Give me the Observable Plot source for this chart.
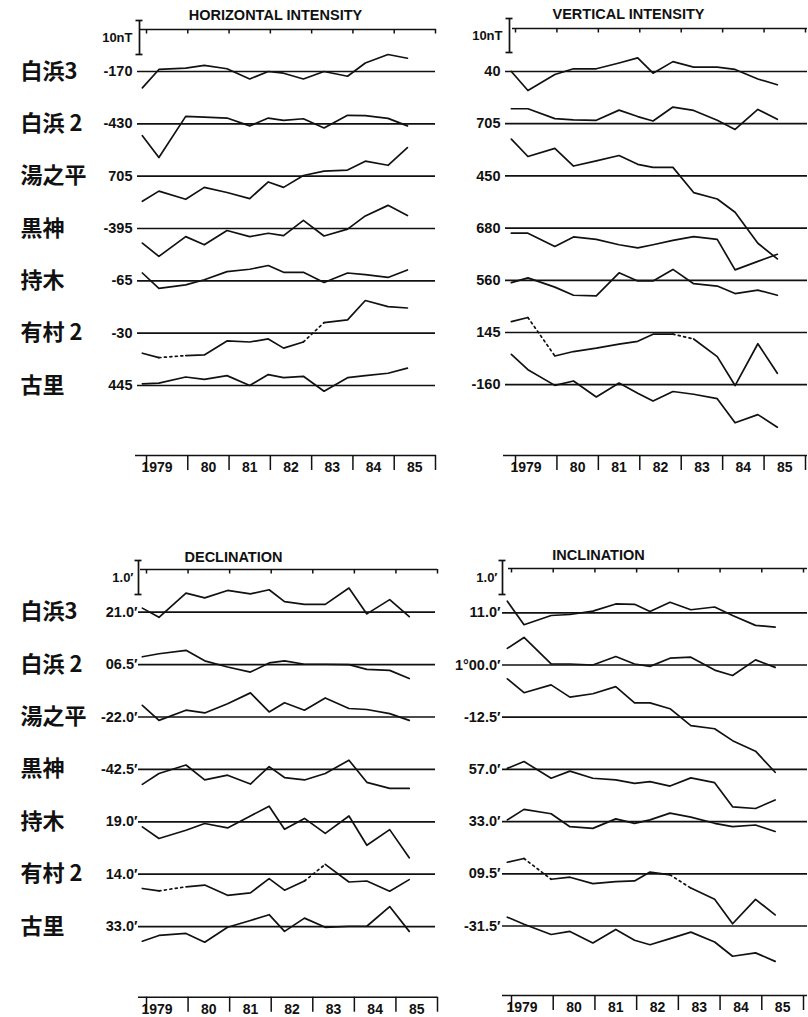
<!DOCTYPE html>
<html><head><meta charset="utf-8">
<script src="https://cdn.jsdelivr.net/npm/d3@7"></script>
<script src="https://cdn.jsdelivr.net/npm/@observablehq/plot@0.6"></script>
<style>
body{margin:0;background:#fff;}
#page{position:relative;width:808px;height:1017px;overflow:hidden;background:#fff;}
#page svg{position:absolute;overflow:visible;background:transparent;max-width:none;}
</style></head><body><div id="page"></div>
<script>
// ---- data ----
const stations = ["白浜3", "白浜 2", "湯之平", "黒神", "持木", "有村 2", "古里"];
const epochs = [1978.9, 1979.3, 1979.95, 1980.4, 1980.95, 1981.5, 1981.95, 1982.32, 1982.8, 1983.3, 1983.87, 1984.3, 1984.85, 1985.32];
const yearTicks = [1979, 1980, 1981, 1982, 1983, 1984, 1985, 1986];
const yearLabels = ["1979", "80", "81", "82", "83", "84", "85"];
const dashedStation = "有村 2";
const dashedSegments = [[1, 2], [8, 9]];

const hiBaseLabels = ["-170", "-430", "705", "-395", "-65", "-30", "445"];
const hiValues = [ // nT, deviation from base value
  [-4.8, 0.6, 1.0, 1.8, 0.8, -2.2, 0.0, -0.5, -2.2, 0.0, -1.4, 2.5, 5.0, 3.9],
  [-3.5, -9.9, 2.2, 2.0, 1.7, -0.6, 1.7, 1.0, 1.5, -1.2, 2.5, 2.4, 1.6, -0.6],
  [-7.4, -4.4, -6.8, -3.3, -4.8, -6.6, -1.7, -3.3, 0.2, 1.5, 1.8, 4.4, 3.2, 8.4],
  [-4.3, -8.2, -2.4, -4.8, -0.6, -2.4, -1.4, -2.1, 2.4, -2.2, -0.2, 3.7, 6.8, 3.8],
  [2.3, -2.2, -1.2, 0.3, 2.7, 3.4, 4.5, 2.5, 2.5, -0.5, 2.3, 1.8, 1.0, 3.2],
  [-5.9, -7.2, -6.6, -6.4, -2.3, -2.6, -1.7, -4.4, -2.6, 3.1, 3.9, 9.6, 7.8, 7.4],
  [0.5, 0.7, 2.5, 1.8, 2.9, 0.0, 3.2, 2.3, 2.7, -1.7, 2.3, 2.9, 3.6, 5.1]
];

const viBaseLabels = ["40", "705", "450", "680", "560", "145", "-160"];
const viValues = [ // nT
  [0.0, -5.6, -0.9, 0.8, 0.8, 2.5, 4.0, -0.5, 2.9, 1.3, 1.3, 0.6, -2.2, -3.9],
  [4.4, 4.4, 1.5, 1.1, 1.0, 4.0, 2.1, 0.8, 4.9, 3.9, 1.0, -1.7, 4.2, 1.3],
  [10.8, 5.7, 8.1, 2.9, 4.4, 6.0, 3.4, 2.5, 2.5, -4.9, -6.8, -10.7, -19.8, -24.4],
  [-1.5, -1.5, -5.4, -2.6, -3.3, -4.9, -5.8, -4.9, -3.6, -2.5, -3.3, -12.3, -9.8, -7.7],
  [-0.7, 0.7, -2.0, -4.4, -4.6, 2.2, -0.2, -0.2, 3.2, -1.0, -1.7, -3.9, -2.9, -4.4],
  [3.2, 4.4, -6.9, -5.6, -4.6, -3.4, -2.6, -0.5, -0.5, -1.9, -7.1, -15.6, -3.3, -12.0],
  [8.9, 4.4, -0.2, 1.1, -3.6, 0.5, -2.5, -4.8, -2.0, -2.8, -4.1, -11.2, -8.8, -12.5]
];

const dBaseLabels = ["21.0′", "06.5′", "-22.0′", "-42.5′", "19.0′", "14.0′", "33.0′"];
const dValues = [ // arc-minutes
  [0.12, -0.15, 0.56, 0.42, 0.64, 0.54, 0.66, 0.31, 0.23, 0.23, 0.71, -0.05, 0.37, -0.13],
  [0.23, 0.32, 0.42, 0.11, -0.07, -0.22, 0.05, 0.11, 0.01, 0.01, 0.00, -0.14, -0.17, -0.41],
  [0.34, -0.10, 0.20, 0.12, 0.39, 0.71, 0.15, 0.42, 0.20, 0.56, 0.25, 0.22, 0.10, -0.10],
  [-0.44, -0.12, 0.13, -0.31, -0.17, -0.43, 0.08, -0.24, -0.31, -0.12, 0.27, -0.38, -0.56, -0.56],
  [-0.15, -0.49, -0.25, -0.05, -0.18, 0.17, 0.46, -0.22, 0.10, -0.34, 0.17, -0.69, -0.23, -1.06],
  [-0.42, -0.49, -0.37, -0.32, -0.62, -0.55, -0.13, -0.47, -0.20, 0.29, -0.23, -0.20, -0.50, -0.16],
  [-0.43, -0.26, -0.20, -0.46, -0.02, 0.18, 0.35, -0.14, 0.25, -0.02, 0.01, 0.01, 0.59, -0.14]
];

const iBaseLabels = ["11.0′", "1°00.0′", "-12.5′", "57.0′", "33.0′", "09.5′", "-31.5′"];
const iValues = [ // arc-minutes
  [0.34, -0.35, -0.08, -0.05, 0.05, 0.26, 0.25, 0.04, 0.31, 0.09, 0.17, -0.08, -0.37, -0.42],
  [0.49, 0.81, 0.03, 0.03, 0.00, 0.25, 0.03, -0.04, 0.20, 0.23, -0.15, -0.31, 0.15, -0.07],
  [1.13, 0.72, 0.95, 0.59, 0.69, 0.90, 0.42, 0.42, 0.25, -0.25, -0.34, -0.69, -1.00, -1.62],
  [0.03, 0.23, -0.26, -0.05, -0.26, -0.31, -0.41, -0.36, -0.49, -0.25, -0.39, -1.10, -1.15, -0.90],
  [0.05, 0.36, 0.23, -0.15, -0.20, 0.08, -0.05, 0.05, 0.25, 0.13, -0.05, -0.15, -0.10, -0.29],
  [0.34, 0.45, -0.16, -0.10, -0.29, -0.23, -0.21, 0.05, -0.03, -0.42, -0.75, -1.47, -0.75, -1.21],
  [0.26, 0.05, -0.25, -0.16, -0.50, -0.10, -0.42, -0.55, -0.37, -0.18, -0.47, -0.89, -0.79, -1.04]
];

// ---- layout ----
const BAR = 34; // pixels per scale-bar unit
const INK = "#111";
const FONT = "'Liberation Sans', Arial, sans-serif";
const JFONT = "'Noto Sans CJK JP', sans-serif";

const panels = [
  {left: 0, top: 0, width: 445, height: 480, x0: 146, x1: 435, axisTop: 29, b0: 71, spacing: 52.33, axisBottom: 455,
   title: "HORIZONTAL INTENSITY", titleX: 275, titleY: 15, unit: 10, unitLabel: "10nT", barX: 139, barTop: 20,
   unitRight: 132, labelRight: 132, names: true, nameLeft: 20, ruleStart: 137, ruleEnd: 435, topStart: 140, topEnd: 436,
   botStart: 135, botEnd: 436, values: hiValues, baseLabels: hiBaseLabels},
  {left: 400, top: 0, width: 408, height: 480, x0: 515, x1: 805, axisTop: 28, b0: 71, spacing: 52.2, axisBottom: 455,
   title: "VERTICAL INTENSITY", titleX: 628, titleY: 14, unit: 10, unitLabel: "10nT", barX: 509, barTop: 18,
   unitRight: 502, labelRight: 500, names: false, ruleStart: 505, ruleEnd: 807, topStart: 512, topEnd: 807,
   botStart: 503, botEnd: 807, values: viValues, baseLabels: viBaseLabels},
  {left: 0, top: 510, width: 445, height: 507, x0: 146, x1: 437, axisTop: 59, b0: 101.7, spacing: 52.4, axisBottom: 486.7,
   title: "DECLINATION", titleX: 233, titleY: 47, unit: 1, unitLabel: "1.0′", barX: 138, barTop: 50,
   unitRight: 133, labelRight: 137, names: true, nameLeft: 20, ruleStart: 138, ruleEnd: 435, topStart: 140, topEnd: 437,
   botStart: 138, botEnd: 437, values: dValues, baseLabels: dBaseLabels},
  {left: 400, top: 510, width: 408, height: 507, x0: 511, x1: 803, axisTop: 58, b0: 102.3, spacing: 52.2, axisBottom: 485,
   title: "INCLINATION", titleX: 598, titleY: 45, unit: 1, unitLabel: "1.0′", barX: 502, barTop: 50,
   unitRight: 497, labelRight: 500, names: false, ruleStart: 502, ruleEnd: 807, topStart: 508, topEnd: 807,
   botStart: 502, botEnd: 807, values: iValues, baseLabels: iBaseLabels}
];

function drawPanel(c) {
  const ppy = (c.x1 - c.x0) / 7;
  const yr = px => 1979 + (px - c.x0) / ppy;       // page x -> year
  const u = px => (c.b0 - px) / BAR;               // local y -> bar units
  const yTop = u(c.axisTop), yBot = u(c.axisBottom);
  const base = i => -i * c.spacing / BAR;

  const solid = [], dashed = [];
  c.values.forEach((vals, i) => {
    let run = 0;
    const gaps = stations[i] === dashedStation ? dashedSegments : [];
    vals.forEach((v, k) => {
      const p = {t: epochs[k], y: base(i) + v / c.unit};
      solid.push({...p, z: i + "-" + run});
      const g = gaps.find(s => s[0] === k);
      if (g) {
        dashed.push({...p, z: i + "-d" + k});
        dashed.push({t: epochs[g[1]], y: base(i) + vals[g[1]] / c.unit, z: i + "-d" + k});
        run++;
      }
    });
  });

  const bTop = u(c.barTop), bBot = bTop - 1;
  const cap = 3.5 / ppy;
  const marks = [
    // station base lines
    Plot.ruleY(stations, {y: (d, i) => base(i), x1: () => yr(c.ruleStart), x2: () => yr(c.ruleEnd), stroke: INK, strokeWidth: 1.7}),
    // top axis
    Plot.ruleY([yTop], {x1: () => yr(c.topStart), x2: () => yr(c.topEnd), stroke: INK, strokeWidth: 1.6}),
    Plot.ruleX(yearTicks, {x: d => d, y1: yTop, y2: yTop - 4.5 / BAR, stroke: INK, strokeWidth: 1.5}),
    // bottom axis
    Plot.ruleY([yBot], {x1: () => yr(c.botStart), x2: () => yr(c.botEnd), stroke: INK, strokeWidth: 1.6}),
    Plot.ruleX(yearTicks, {x: d => d, y1: yBot, y2: yBot - 15 / BAR, stroke: INK, strokeWidth: 1.5}),
    Plot.text(yearLabels.slice(0, 1), {x: () => 1979, y: yBot, dy: 12, dx: -5, text: d => d, textAnchor: "start",
      fontSize: 14, fontWeight: "bold", fill: INK}),
    Plot.text(yearLabels.slice(1), {x: (d, i) => 1980 + i + 0.5, y: yBot, dy: 12, text: d => d,
      fontSize: 14, fontWeight: "bold", fill: INK}),
    // scale bar
    Plot.ruleX([c.barX], {x: d => yr(d), y1: bTop, y2: bBot, stroke: INK, strokeWidth: 1.7}),
    Plot.ruleY([bTop, bBot], {y: d => d, x1: () => yr(c.barX) - cap, x2: () => yr(c.barX) + cap, stroke: INK, strokeWidth: 1.7}),
    Plot.text([c.unitLabel], {x: () => yr(c.unitRight), y: (bTop + bBot) / 2, text: d => d, textAnchor: "end",
      fontSize: 13, fontWeight: "bold", fill: INK}),
    // title
    Plot.text([c.title], {x: () => yr(c.titleX), y: () => u(c.titleY), text: d => d, fontSize: 14.5,
      fontWeight: "bold", fill: INK}),
    // base value labels
    Plot.text(c.baseLabels, {x: () => yr(c.labelRight), y: (d, i) => base(i), text: d => d, textAnchor: "end",
      fontSize: 14.5, fontWeight: "bold", fill: INK}),
    // series
    Plot.line(solid, {x: "t", y: "y", z: "z", stroke: INK, strokeWidth: 1.7, curve: "linear"}),
    Plot.line(dashed, {x: "t", y: "y", z: "z", stroke: INK, strokeWidth: 1.7, strokeDasharray: "2,3.5"})
  ];
  if (c.names) {
    marks.push(Plot.text(stations, {x: () => yr(c.nameLeft), y: (d, i) => base(i), text: d => d,
      textAnchor: "start", fontSize: 22, fontWeight: "bold", fontFamily: JFONT, fill: INK}));
  }

  const svg = Plot.plot({
    width: c.width,
    height: c.height,
    marginLeft: c.x0 - c.left,
    marginRight: c.left + c.width - c.x1,
    marginTop: c.axisTop,
    marginBottom: c.height - c.axisBottom,
    x: {domain: [1979, 1986], axis: null},
    y: {domain: [yBot, yTop], axis: null},
    style: {fontFamily: FONT, background: "transparent", overflow: "visible"},
    marks
  });
  svg.style.left = c.left + "px";
  svg.style.top = c.top + "px";
  document.getElementById("page").appendChild(svg);
}

panels.forEach(drawPanel);
</script>
</body></html>
